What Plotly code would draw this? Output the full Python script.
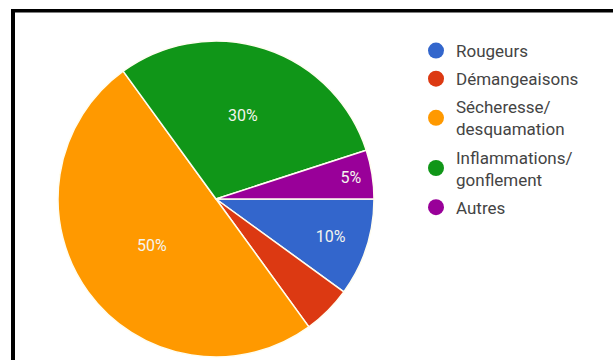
import plotly.graph_objects as go

categories = ["Rougeurs", "Démangeaisons", "Sécheresse/<br>desquamation", "Inflammations/<br>gonflement", "Autres"]
values = [10, 5, 50, 30, 5]
slice_labels = ["10%", "", "50%", "30%", "5%"]
colors = ["#3366CC", "#DC3912", "#FF9900", "#109618", "#990099"]

W, H = 613, 360
cx, cy, r = 216, 199, 158

fig = go.Figure()
fig.add_trace(go.Pie(
    labels=categories,
    values=values,
    text=slice_labels,
    textinfo="text",
    textposition="inside",
    insidetextorientation="horizontal",
    sort=False,
    direction="clockwise",
    rotation=90,
    marker=dict(colors=colors, line=dict(color="#FFFDF0", width=1.5)),
    textfont=dict(family="Roboto", size=16, color="#F4F4EE"),
    showlegend=False,
    domain=dict(x=[(cx - r) / W, (cx + r) / W], y=[1 - (cy + r) / H, 1 - (cy - r) / H]),
))

for i, (cat, col) in enumerate(zip(categories, colors)):
    fig.add_trace(go.Scatter(
        x=[None], y=[None], mode="markers", name=cat,
        legendgroup=str(i),
        marker=dict(symbol="circle", size=18, color=col),
    ))

fig.update_layout(
    width=W, height=H,
    margin=dict(l=0, r=0, t=0, b=0),
    paper_bgcolor="white", plot_bgcolor="white",
    xaxis=dict(visible=False), yaxis=dict(visible=False),
    legend=dict(
        x=416 / W, y=1 - 33 / H, xanchor="left", yanchor="top",
        font=dict(family="Roboto", size=17, color="#444444"),
        tracegroupgap=3, traceorder="grouped",
        bgcolor="rgba(0,0,0,0)",
    ),
    shapes=[
        dict(type="line", xref="paper", yref="paper", x0=11 / W, x1=1.0,
             y0=1 - 10.7 / H, y1=1 - 10.7 / H, line=dict(color="black", width=3.5)),
        dict(type="line", xref="paper", yref="paper", x0=13 / W, x1=13 / W,
             y0=0, y1=1 - 9 / H, line=dict(color="black", width=4)),
    ],
)

fig.write_html("out.html", config={"displayModeBar": False},
               post_script="document.body.style.margin='0';")
